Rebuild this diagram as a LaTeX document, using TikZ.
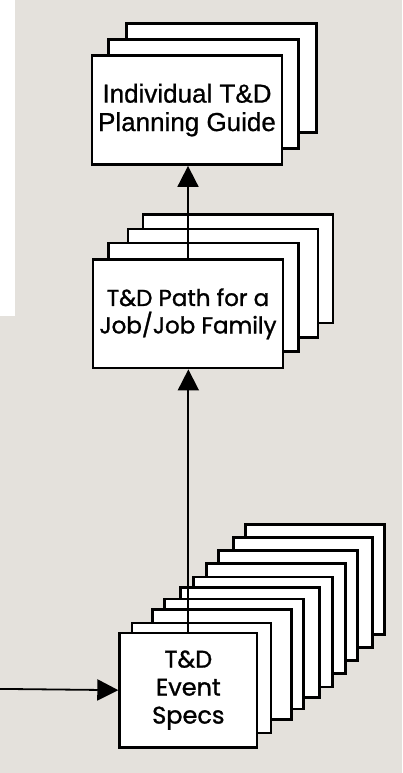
\documentclass[tikz,border=0pt]{standalone}
\usepackage{fontspec}
\setmainfont[FakeBold=0.8]{Liberation Sans}
\newfontfamily\geofont[FakeBold=1.2]{Poppins}
\usetikzlibrary{arrows.meta}
\definecolor{paper}{RGB}{228,225,220}
\tikzset{
  card/.style={draw, fill=white, line width=2.6pt, anchor=north west,
               inner sep=0pt, align=center},
  guidecard/.style={card, minimum width=190pt, minimum height=109pt},
  pathcard/.style={card, minimum width=190pt, minimum height=108.5pt},
  eventcard/.style={card, minimum width=139pt, minimum height=110pt},
  flow/.style={line width=1.8pt, -{Triangle[length=21pt,width=21pt]}},
}
\begin{document}
\begin{tikzpicture}[x=1pt,y=-1pt]
\useasboundingbox (0,0) rectangle (402,773);
% backdrop
\fill[white] (0,0) rectangle (402,773);
\fill[paper] (15,0) rectangle (402,316);
\fill[paper] (0,316) rectangle (402,773);

% planning guide stack
\foreach \n/\x/\y in {3/125.3/22.3, 2/107/38.3}
  \node[guidecard] (guide\n) at (\x,\y) {};
\node[guidecard, font=\fontsize{26}{28.4}\selectfont] (guide) at (90.7,54.3)
  {Individual T\&D\\Planning Guide};

% job path stack
\foreach \n/\x/\y in {4/141.7/213.3, 3/126.7/227.7, 2/107.3/241.7}
  \node[pathcard] (path\n) at (\x,\y) {};
\node[pathcard, font=\geofont\fontsize{23}{27.4}\selectfont] (path) at (91.7,258.3)
  {T\&D Path for a\\Job/Job Family};

% event spec stack
\foreach \n/\x/\y in {10/244.3/523.3, 9/232.3/536, 8/217.3/549.3, 7/205/562.3,
                      6/192.3/575.7, 5/179/586, 4/163.3/597.7, 3/151/608.3,
                      2/130.7/621.7}
  \node[eventcard] (spec\n) at (\x,\y) {};
\node[card, minimum width=137.5pt, minimum height=114.3pt,
      font=\geofont\fontsize{24}{28}\selectfont] (specs) at (118.3,631.7)
  {T\&D\\Event\\Specs};

% connectors
\coordinate (feed) at (0,688.9);
\draw[flow] (feed) -- (specs.west);
\draw[flow] (specs.north) -- (specs.north |- path.south);
\draw[flow] (path.north) -- (path.north |- guide.south);
\end{tikzpicture}
\end{document}
